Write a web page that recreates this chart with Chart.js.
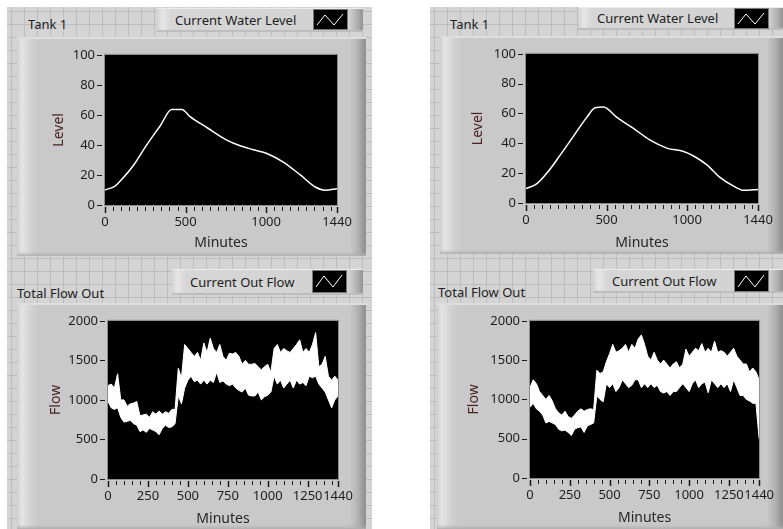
<!DOCTYPE html>
<html>
<head>
<meta charset="utf-8">
<script src="https://cdn.jsdelivr.net/npm/chart.js@4.4.1/dist/chart.umd.min.js"></script>
<style>
    body { margin: 0; width: 783px; height: 529px; background: #fff; position: relative; overflow: hidden; font-family: "Noto Sans", sans-serif; }
    .col { position: absolute; top: 7px; bottom: 0; background-color: #d4d4d4;
        background-image: linear-gradient(#bdbdbd 1px, transparent 1px), linear-gradient(90deg, #bdbdbd 1px, transparent 1px);
        background-size: 13px 13px; background-position: 4px 4px; }
    .frame { position: absolute;
        background: linear-gradient(90deg, #d2d2d2 0, #e4e4e4 5px, #d0d0d0 15px, #c9c9c9 22px, #c9c9c9 calc(100% - 16px), #b2b2b2 calc(100% - 8px), #8c8c8c 100%);
        box-shadow: inset 0 2px 0 #dedede, inset 0 -3px 3px -1px #b0b0b0; }
    .frame canvas { position: absolute; left: 0; top: 0; }
    .label { position: absolute; font-size: 13px; color: #222; line-height: 16px; }
    .legend { position: absolute;
        background: linear-gradient(90deg, #d4d4d4 0, #e6e6e6 6px, #d6d6d6 14px, #d2d2d2 calc(100% - 14px), #a9a9a9 calc(100% - 4px), #8e8e8e 100%);
        box-shadow: inset 0 1px 0 #ececec, inset 0 -2px 1px #bdbdbd; }
    .legend span { position: absolute; font-size: 13px; color: #222; line-height: 16px; }
    .legend svg { position: absolute; background: #000; outline: 1px solid #7a7a7a; }
</style>
</head>
<body>
<div class="col" style="left:7px;width:365px"></div>
<div class="col" style="left:430px;width:353px"></div>

<div class="label" style="left:28px;top:16px">Tank 1</div>
<div class="legend" style="left:157px;top:8px;width:206px;height:24px">
    <span style="left:18px;top:4px">Current Water Level</span>
    <svg style="left:157px;top:2px" width="33" height="19"><polyline points="3,15 11,5 20,15 29,4" fill="none" stroke="#fff" stroke-width="1"/></svg>
</div>
<div class="frame" style="left:17px;top:37px;width:349px;height:219px"><canvas id="levelA"></canvas></div>

<div class="label" style="left:17px;top:285px">Total Flow Out</div>
<div class="legend" style="left:172px;top:269px;width:191px;height:26px">
    <span style="left:18px;top:5px">Current Out Flow</span>
    <svg style="left:141px;top:2px" width="33" height="21"><polyline points="3,16 11,5 20,16 29,4" fill="none" stroke="#fff" stroke-width="1"/></svg>
</div>
<div class="frame" style="left:17px;top:303px;width:349px;height:226px"><canvas id="flowA"></canvas></div>

<div class="label" style="left:450px;top:16px">Tank 1</div>
<div class="legend" style="left:578px;top:7px;width:205px;height:23px">
    <span style="left:19px;top:3px">Current Water Level</span>
    <svg style="left:157px;top:2px" width="33" height="19"><polyline points="3,15 11,5 20,15 29,4" fill="none" stroke="#fff" stroke-width="1"/></svg>
</div>
<div class="frame" style="left:440px;top:36px;width:343px;height:218px"><canvas id="levelB"></canvas></div>

<div class="label" style="left:438px;top:284px">Total Flow Out</div>
<div class="legend" style="left:593px;top:269px;width:190px;height:24px">
    <span style="left:19px;top:4px">Current Out Flow</span>
    <svg style="left:142px;top:2px" width="33" height="20"><polyline points="3,16 11,5 20,16 29,4" fill="none" stroke="#fff" stroke-width="1"/></svg>
</div>
<div class="frame" style="left:437px;top:303px;width:346px;height:226px"><canvas id="flowB"></canvas></div>

<script>
// Tank level (left and right panel)
const levelMinutesA = [0, 62, 93, 176, 259, 342, 414, 477, 528, 632, 756, 839, 922, 1005, 1109, 1212, 1305, 1368, 1440];
const levelA = [10, 12.6, 15.8, 26.3, 40, 52.6, 63.6, 63.6, 58.9, 51.6, 43.2, 39.4, 36.8, 34.3, 28.4, 20, 12, 9.9, 10.9];
const levelMinutesB = [0, 66, 139, 211, 294, 377, 429, 481, 564, 667, 771, 874, 978, 1040, 1123, 1206, 1289, 1351, 1440];
const levelB = [9.6, 12.8, 21.3, 31.9, 44.7, 57.4, 63.8, 64.3, 57.4, 50, 42.1, 36.8, 34.5, 31.5, 25.5, 17, 11.3, 8.5, 9.1];

// Out flow: noisy band, kept as upper / lower envelope every 20 minutes
const flowMinutes = [0, 20, 40, 60, 80, 100, 120, 140, 160, 180, 200, 220, 240, 260, 280, 300, 320, 340, 360, 380,
    400, 420, 440, 460, 480, 500, 520, 540, 560, 580, 600, 620, 640, 660, 680, 700, 720, 740, 760, 780,
    800, 820, 840, 860, 880, 900, 920, 940, 960, 980, 1000, 1020, 1040, 1060, 1080, 1100, 1120, 1140, 1160, 1180,
    1200, 1220, 1240, 1260, 1280, 1300, 1320, 1340, 1360, 1380, 1400, 1420, 1440];
const flowUpperA = [1180, 1200, 1150, 1330, 1000, 1000, 920, 950, 960, 980, 800, 810, 820, 780, 850, 820, 860, 820, 850, 830,
    880, 880, 1400, 1280, 1700, 1650, 1600, 1550, 1600, 1500, 1720, 1600, 1780, 1650, 1600, 1700, 1550, 1500, 1590, 1580,
    1600, 1550, 1450, 1500, 1450, 1450, 1460, 1420, 1380, 1420, 1450, 1350, 1650, 1700, 1600, 1650, 1620, 1600, 1650, 1700,
    1760, 1600, 1650, 1600, 1700, 1850, 1420, 1450, 1550, 1300, 1250, 1300, 1250];
const flowLowerA = [980, 900, 880, 900, 780, 720, 730, 740, 700, 680, 600, 620, 590, 640, 620, 600, 560, 640, 680, 650,
    660, 700, 1050, 950, 1150, 1250, 1300, 1230, 1250, 1200, 1250, 1200, 1250, 1220, 1350, 1220, 1240, 1200, 1180, 1200,
    1150, 1120, 1100, 1150, 1060, 1050, 1050, 1100, 1000, 1040, 1060, 1100, 1300, 1200, 1250, 1150, 1200, 1250, 1150, 1250,
    1200, 1220, 1180, 1300, 1280, 1300, 1200, 1150, 1100, 1000, 900, 1000, 1050];
const flowUpperB = [1150, 1250, 1200, 1100, 1050, 1000, 1050, 980, 880, 830, 800, 850, 780, 760, 800, 850, 880, 850, 870, 880,
    870, 1370, 1330, 1350, 1480, 1580, 1700, 1600, 1620, 1650, 1700, 1600, 1700, 1650, 1770, 1820, 1700, 1550, 1500, 1600,
    1500, 1450, 1500, 1450, 1400, 1450, 1480, 1400, 1450, 1640, 1550, 1600, 1650, 1620, 1710, 1600, 1650, 1600, 1740, 1600,
    1620, 1600, 1550, 1600, 1650, 1550, 1500, 1450, 1450, 1350, 1400, 1350, 1250];
const flowLowerB = [900, 950, 880, 850, 800, 700, 720, 700, 680, 620, 600, 610, 580, 540, 620, 640, 650, 580, 660, 680,
    700, 1045, 1000, 970, 1200, 1150, 1200, 1100, 1150, 1250, 1200, 1150, 1180, 1250, 1250, 1150, 1200, 1150, 1200, 1150,
    1180, 1100, 1080, 1100, 1050, 1100, 1100, 1150, 1200, 1150, 1100, 1200, 1250, 1150, 1200, 1220, 1085, 1250, 1200, 1150,
    1200, 1150, 1200, 1100, 1250, 1150, 1050, 1050, 1000, 980, 950, 950, 500];

// axis labels shown under the plots
const levelXLabels = [0, 500, 1000, 1440];
const flowXLabels = [0, 250, 500, 750, 1000, 1250, 1440];

Chart.defaults.font.family = '"Noto Sans", sans-serif';
Chart.defaults.font.size = 13;
Chart.defaults.color = '#1e1e1e';

// black plot area, grey border and the LabVIEW style tick marks
const panelPlugin = {
    id: 'panel',
    beforeDraw(chart) {
        const { ctx, chartArea: a } = chart;
        ctx.save();
        ctx.fillStyle = '#000';
        ctx.fillRect(a.left, a.top, a.width, a.height);
        ctx.restore();
    },
    afterDraw(chart) {
        const { ctx, chartArea: a, scales: { x, y } } = chart;
        ctx.save();
        ctx.strokeStyle = '#8c8c8c';
        ctx.lineWidth = 1;
        ctx.strokeRect(a.left - 0.5, a.top - 0.5, a.width + 1, a.height + 1);
        ctx.strokeStyle = '#1a1a1a';
        ctx.beginPath();
        y.ticks.forEach(t => {
            const py = Math.round(y.getPixelForValue(t.value)) + 0.5;
            ctx.moveTo(a.left - 8, py);
            ctx.lineTo(a.left - 3, py);
        });
        ctx.stroke();
        x.ticks.forEach(t => {
            const px = Math.round(x.getPixelForValue(t.value)) + 0.5;
            const major = t.label !== '';
            ctx.lineWidth = major ? 1.5 : 1;
            ctx.beginPath();
            ctx.moveTo(px, a.bottom + 2);
            ctx.lineTo(px, a.bottom + (major ? 8 : 6));
            ctx.stroke();
        });
        ctx.restore();
    }
};

function makeChart(id, w, h, cfg) {
    const canvas = document.getElementById(id);
    canvas.style.width = w + 'px';
    canvas.style.height = h + 'px';
    return new Chart(canvas, {
        type: 'line',
        data: { datasets: cfg.datasets },
        options: {
            responsive: false,
            animation: false,
            events: [],
            layout: { padding: { left: 0, top: cfg.top, right: cfg.right, bottom: 0 } },
            plugins: { legend: { display: false }, tooltip: { enabled: false } },
            elements: { point: { radius: 0 } },
            scales: {
                x: {
                    type: 'linear', min: 0, max: 1440,
                    afterBuildTicks: s => {
                        const vals = [];
                        for (let v = 0; v < 1440; v += 50) vals.push(v);
                        vals.push(1440);
                        s.ticks = vals.map(v => ({ value: v }));
                    },
                    afterFit: s => { s.height = cfg.xh; },
                    grid: { display: false, drawTicks: false },
                    border: { display: false },
                    ticks: {
                        autoSkip: false, maxRotation: 0, padding: 9,
                        callback: v => cfg.xLabels.includes(v) ? String(v) : ''
                    },
                    title: { display: true, text: 'Minutes', font: { size: 14 }, color: '#262626', padding: { top: 0, bottom: cfg.xTitlePad } }
                },
                y: {
                    min: 0, max: cfg.yMax,
                    afterFit: s => { s.width = cfg.left; },
                    grid: { display: false, drawTicks: false },
                    border: { display: false },
                    ticks: { stepSize: cfg.yStep, padding: 10, callback: v => String(v) },
                    title: { display: true, text: cfg.yTitle, font: { size: 14 }, color: '#4a2323', padding: { top: cfg.yTitlePad, bottom: 0 } }
                }
            }
        },
        plugins: [panelPlugin]
    });
}

function levelSet(minutes, values) {
    return [{
        data: minutes.map((m, i) => ({ x: m, y: values[i] })),
        borderColor: '#fff', borderWidth: 1.5, cubicInterpolationMode: 'monotone', fill: false
    }];
}

function flowSet(upper, lower) {
    return [
        {
            data: flowMinutes.map((m, i) => ({ x: m, y: upper[i] })),
            borderColor: '#fff', backgroundColor: '#fff', borderWidth: 1, fill: '+1'
        },
        {
            data: flowMinutes.map((m, i) => ({ x: m, y: lower[i] })),
            borderColor: '#fff', borderWidth: 1, fill: false
        }
    ];
}

makeChart('levelA', 349, 219, {
    left: 88, right: 29, top: 10, xh: 51, xTitlePad: 5, yTitlePad: 34,
    yMax: 100, yStep: 20, yTitle: 'Level', xLabels: levelXLabels,
    datasets: levelSet(levelMinutesA, levelA)
});
makeChart('flowA', 349, 226, {
    left: 91, right: 28, top: 12, xh: 50, xTitlePad: 2, yTitlePad: 31,
    yMax: 2000, yStep: 500, yTitle: 'Flow', xLabels: flowXLabels,
    datasets: flowSet(flowUpperA, flowLowerA)
});
makeChart('levelB', 343, 218, {
    left: 86, right: 25, top: 11, xh: 51, xTitlePad: 3, yTitlePad: 30,
    yMax: 100, yStep: 20, yTitle: 'Level', xLabels: levelXLabels,
    datasets: levelSet(levelMinutesB, levelB)
});
makeChart('flowB', 346, 226, {
    left: 93, right: 23, top: 11, xh: 51, xTitlePad: 3, yTitlePad: 29,
    yMax: 2000, yStep: 500, yTitle: 'Flow', xLabels: flowXLabels,
    datasets: flowSet(flowUpperB, flowLowerB)
});
</script>
</body>
</html>
